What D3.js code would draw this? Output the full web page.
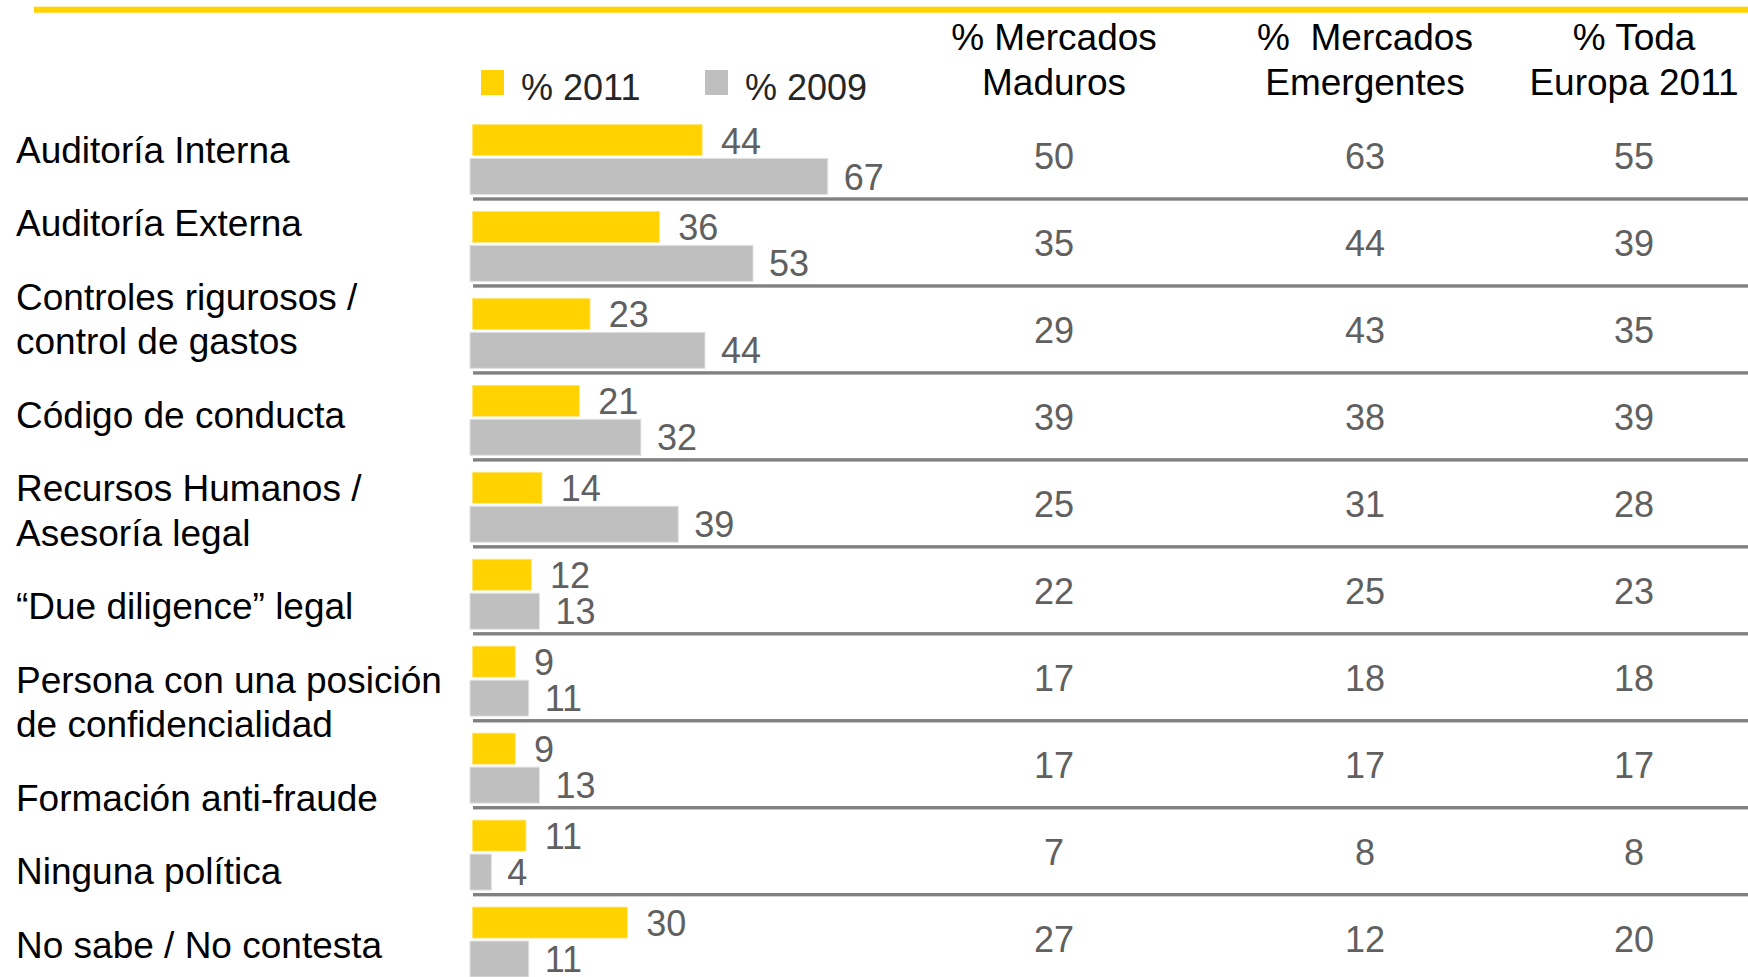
<!DOCTYPE html>
<html>
<head>
<meta charset="utf-8">
<script src="https://cdn.jsdelivr.net/npm/d3@7"></script>
<style>
  html, body { margin: 0; padding: 0; background: #fff; }
  svg { display: block; font-family: "Liberation Sans", Arial, sans-serif; }
</style>
</head>
<body>
<svg id="chart" width="1748" height="977"></svg>
<script>
// ---------- DATA ----------
const categories = [
  "Auditoría Interna",
  "Auditoría Externa",
  "Controles rigurosos /\ncontrol de gastos",
  "Código de conducta",
  "Recursos Humanos /\nAsesoría legal",
  "“Due diligence” legal",
  "Persona con una posición\nde confidencialidad",
  "Formación anti-fraude",
  "Ninguna política",
  "No sabe / No contesta"
];
const values2011 = [44, 36, 23, 21, 14, 12, 9, 9, 11, 30];
const values2009 = [67, 53, 44, 32, 39, 13, 11, 13, 4, 11];
const maduros    = [50, 35, 29, 39, 25, 22, 17, 17, 7, 27];
const emergentes = [63, 44, 43, 38, 31, 25, 18, 17, 8, 12];
const europa     = [55, 39, 35, 39, 28, 23, 18, 17, 8, 20];
const seriesNames = ["% 2011", "% 2009"];
const columnHeaders = [
  ["% Mercados", "Maduros"],
  ["%\u00A0 Mercados", "Emergentes"],
  ["% Toda", "Europa 2011"]
];

// ---------- LAYOUT / STYLE ----------
const W = 1748, H = 977;
const YELLOW = "#FFD200", GREY = "#BFBFBF", RULE = "#808080", NUMC = "#606060";
const svg = d3.select("#chart");

const rowStep = 86.96, rowsTop = 112;
const y = d3.scaleBand().domain(d3.range(categories.length))
  .range([rowsTop, rowsTop + rowStep * categories.length]).padding(0);
const x = d3.scaleLinear().domain([0, 100]).range([470, 1004]);
const colX = d3.scaleOrdinal().domain([0, 1, 2]).range([1054, 1365, 1634]);
const colData = [maduros, emergentes, europa];

// top yellow rule
svg.append("rect").attr("x", 34).attr("y", 6.7).attr("width", W - 34).attr("height", 6)
  .attr("fill", YELLOW);

// legend
const legend = svg.append("g");
const legendItems = [
  { name: seriesNames[0], color: YELLOW, x: 481 },
  { name: seriesNames[1], color: GREY, x: 705 }
];
legendItems.forEach(d => {
  legend.append("rect").attr("x", d.x).attr("y", 70).attr("width", 23).attr("height", 25)
    .attr("fill", d.color);
  legend.append("text").attr("x", d.x + 40).attr("y", 100)
    .attr("font-size", 36).attr("fill", "#262626").text(d.name);
});

// column headers
columnHeaders.forEach((lines, i) => {
  const t = svg.append("text").attr("text-anchor", "middle").attr("font-size", 37).attr("fill", "#000");
  lines.forEach((ln, j) => {
    t.append("tspan").attr("x", colX(i)).attr("y", 49.5 + j * 45).text(ln);
  });
});

// rows
const rows = svg.append("g").selectAll("g").data(categories).join("g")
  .attr("transform", (d, i) => `translate(0,${y(i)})`);

// separators
rows.filter((d, i) => i < categories.length - 1)
  .append("rect").attr("x", 473).attr("y", 85.3).attr("width", W - 473).attr("height", 3.4)
  .attr("fill", RULE);

// 2011 bars (yellow)
rows.append("rect")
  .attr("x", x(0) + 2.3).attr("y", 12.4)
  .attr("width", (d, i) => x(values2011[i]) - 2.8 - (x(0) + 2.3))
  .attr("height", 31).attr("fill", YELLOW)
  .attr("stroke", "#FFE680").attr("stroke-width", 0.8);

// 2009 bars (grey)
rows.append("rect")
  .attr("x", x(0)).attr("y", 46.4)
  .attr("width", (d, i) => x(values2009[i]) - x(0))
  .attr("height", 36).attr("fill", GREY)
  .attr("stroke", "#E2E2E2").attr("stroke-width", 1);

// bar value labels
rows.append("text").attr("x", (d, i) => x(values2011[i]) + 16).attr("y", 41.5)
  .attr("font-size", 36).attr("fill", NUMC).text((d, i) => values2011[i]);
rows.append("text").attr("x", (d, i) => x(values2009[i]) + 16).attr("y", 77.5)
  .attr("font-size", 36).attr("fill", NUMC).text((d, i) => values2009[i]);

// table columns
colData.forEach((arr, c) => {
  rows.append("text").attr("x", colX(c)).attr("y", 57.3).attr("text-anchor", "middle")
    .attr("font-size", 36).attr("fill", NUMC).text((d, i) => arr[i]);
});

// category labels (flowing text block)
const lineH = 44.5, paraGap = 73.5;
let base = 162.5;
const labelG = svg.append("g");
categories.forEach((cat, i) => {
  const lines = cat.split("\n");
  const t = labelG.append("text").attr("font-size", 37).attr("fill", "#000");
  lines.forEach((ln, j) => {
    t.append("tspan").attr("x", 16).attr("y", base + j * lineH).text(ln);
  });
  base += (lines.length - 1) * lineH + paraGap;
});
</script>
</body>
</html>
